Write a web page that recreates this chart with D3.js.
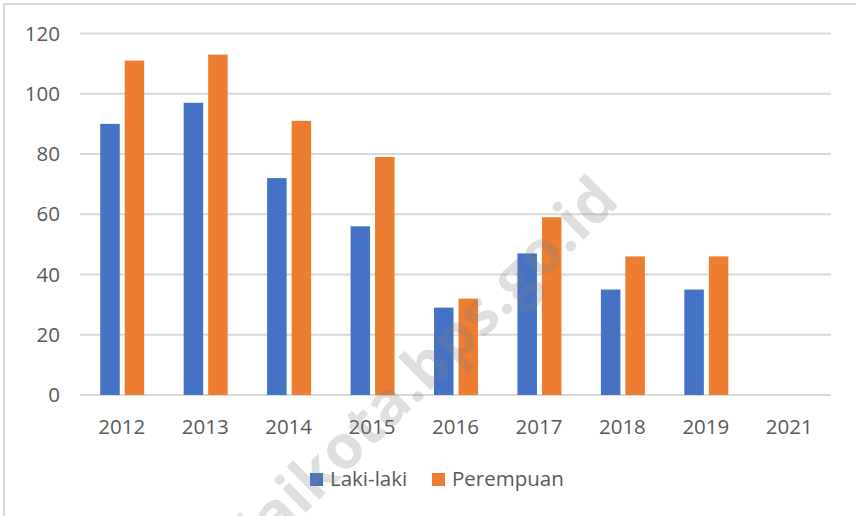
<!DOCTYPE html>
<html>
<head>
<meta charset="utf-8">
<script src="https://cdn.jsdelivr.net/npm/d3@7/dist/d3.min.js"></script>
<style>
  html, body { margin: 0; padding: 0; background: #fff; }
  svg { display: block; }
  text { font-family: "Open Sans", "Noto Sans", sans-serif; fill: #595959; }
</style>
</head>
<body>
<svg id="chart" width="856" height="516"></svg>
<script>
const categories = ["2012", "2013", "2014", "2015", "2016", "2017", "2018", "2019", "2021"];
const seriesNames = ["Laki-laki", "Perempuan"];
const lakiLaki = [90, 97, 72, 56, 29, 47, 35, 35, null];
const perempuan = [111, 113, 91, 79, 32, 59, 46, 46, null];
const yTicks = [0, 20, 40, 60, 80, 100, 120];
const colors = ["#4472C4", "#ED7D31"];
const watermark = "tanjungbalaikota.bps.go.id";

const svg = d3.select("#chart");
const W = 856, H = 516;
const margin = { left: 80, right: 25, top: 33.5, bottom: 121 };
const fontSize = "20.5px";

// chart border (top and left visible)
svg.append("line").attr("x1", 4).attr("x2", W).attr("y1", 4).attr("y2", 4)
  .attr("stroke", "#d9d9d9").attr("stroke-width", 2);
svg.append("line").attr("x1", 4).attr("x2", 4).attr("y1", 4).attr("y2", H)
  .attr("stroke", "#d9d9d9").attr("stroke-width", 2);

const x = d3.scaleBand().domain(categories).range([margin.left, W - margin.right]).padding(0);
const y = d3.scaleLinear().domain([0, 120]).range([H - margin.bottom, margin.top]);

// gridlines
svg.append("g").selectAll("line").data(yTicks).join("line")
  .attr("x1", margin.left).attr("x2", W - margin.right)
  .attr("y1", d => y(d)).attr("y2", d => y(d))
  .attr("stroke", "#d9d9d9").attr("stroke-width", 2);

// y axis labels
const yAxis = d3.axisLeft(y).tickValues(yTicks).tickSize(0).tickPadding(0);
const gy = svg.append("g").attr("transform", `translate(${margin.left - 20},0)`).call(yAxis);
gy.select(".domain").remove();
gy.selectAll("text").style("font-size", fontSize).style("fill", "#595959")
  .style("font-family", '"Open Sans", sans-serif');

// x axis labels
const xAxis = d3.axisBottom(x).tickSize(0).tickPadding(0);
const gx = svg.append("g").attr("transform", `translate(0,${y(0) + 24})`).call(xAxis);
gx.select(".domain").remove();
gx.selectAll("text").style("font-size", fontSize).style("fill", "#595959")
  .style("font-family", '"Open Sans", sans-serif');

// bars
const barW = 19.5, gap = 5;
const x1 = d3.scaleBand().domain(seriesNames).range([0, 2 * barW + gap]).paddingInner(gap / (barW + gap));
const data = [lakiLaki, perempuan];
const groups = svg.append("g").selectAll("g").data(categories).join("g")
  .attr("transform", d => `translate(${x(d) + x.bandwidth() / 2 - (2 * barW + gap) / 2 + 0.5},0)`);
groups.selectAll("rect")
  .data((c, i) => seriesNames.map((s, j) => ({ s, v: data[j][i], j })).filter(d => d.v != null))
  .join("rect")
  .attr("x", d => x1(d.s))
  .attr("width", x1.bandwidth())
  .attr("y", d => y(d.v))
  .attr("height", d => y(0) - y(d.v))
  .attr("fill", d => colors[d.j]);

// legend
const legendItems = [
  { name: seriesNames[0], color: colors[0], x: 310 },
  { name: seriesNames[1], color: colors[1], x: 432 }
];
const lg = svg.append("g").selectAll("g").data(legendItems).join("g")
  .attr("transform", d => `translate(${d.x},473)`);
lg.append("rect").attr("width", 13).attr("height", 13).attr("fill", d => d.color);
lg.append("text").attr("x", 20).attr("y", 13).style("font-size", fontSize).text(d => d.name);

// watermark
svg.append("text")
  .attr("transform", "translate(621,203) rotate(-44.5)")
  .attr("text-anchor", "end")
  .style("font-size", "61px")
  .style("font-weight", "bold")
  .style("font-family", '"Open Sans", sans-serif')
  .style("fill", "#808080")
  .style("fill-opacity", 0.25)
  .text(watermark);
</script>
</body>
</html>
